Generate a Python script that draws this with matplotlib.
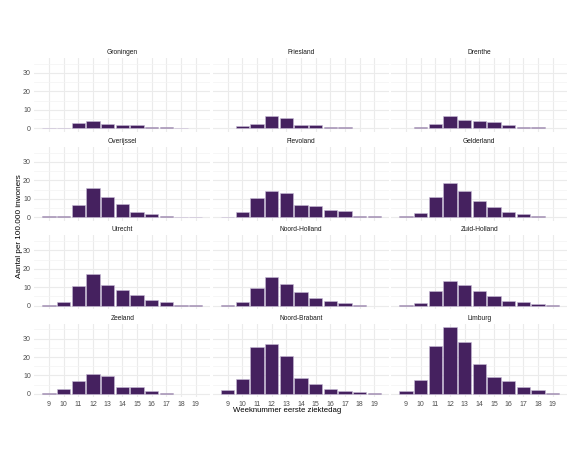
import matplotlib
matplotlib.use("Agg")
import matplotlib.pyplot as plt
import numpy as np

plt.rcParams['font.family'] = ['Liberation Sans', 'DejaVu Sans']

provinces = ["Groningen", "Friesland", "Drenthe",
             "Overijssel", "Flevoland", "Gelderland",
             "Utrecht", "Noord-Holland", "Zuid-Holland",
             "Zeeland", "Noord-Brabant", "Limburg"]

weeks = [9, 10, 11, 12, 13, 14, 15, 16, 17, 18, 19]

# values per week 9..19 (None = no bar)
groningen = [0.3, 0.3, 2.7, 4.0, 2.2, 1.8, 1.6, 0.7, 0.7, 0.2, None]
friesland = [None, 1.1, 2.5, 6.5, 5.3, 1.8, 1.6, 0.7, 0.7, None, None]
drenthe = [None, 0.7, 2.5, 6.7, 4.7, 4.0, 3.3, 1.6, 0.4, 0.4, None]
overijssel = [0.55, 0.9, 6.6, 15.8, 10.9, 7.0, 2.9, 1.8, 0.7, 0.3, 0.3]
flevoland = [0.2, 2.9, 10.5, 14.0, 13.1, 6.6, 6.1, 3.9, 3.1, 0.5, 0.7]
gelderland = [0.55, 2.4, 10.7, 18.6, 14.0, 8.8, 5.7, 2.8, 1.5, 0.55, None]
utrecht = [0.55, 1.85, 10.4, 17.4, 11.3, 8.7, 5.7, 3.0, 1.7, 0.55, 0.2]
noord_holland = [0.4, 1.85, 9.6, 15.6, 11.5, 7.2, 3.9, 2.4, 1.3, 0.4, None]
zuid_holland = [0.2, 1.5, 8.1, 13.5, 11.1, 8.0, 5.2, 2.6, 1.7, 0.75, 0.2]
zeeland = [0.55, 2.8, 7.2, 10.9, 9.9, 3.5, 3.5, 1.5, 0.55, None, None]
noord_brabant = [2.0, 8.3, 25.4, 27.3, 20.8, 8.8, 5.5, 2.8, 1.7, 0.75, 0.4]
limburg = [1.3, 7.6, 25.9, 36.3, 28.2, 16.0, 9.2, 7.0, 3.7, 2.0, 0.4]

series = [groningen, friesland, drenthe, overijssel, flevoland, gelderland,
          utrecht, noord_holland, zuid_holland, zeeland, noord_brabant, limburg]

W, H = 582, 450
fig = plt.figure(figsize=(W / 100, H / 100), dpi=100)

col_left = [34.3, 213.0, 391.3]
panel_w = 176.0
row_top = [58.0, 147.0, 235.4, 323.7]
panel_h = 73.5

fill = '#45215f'
ymax = max(v for s in series for v in s if v is not None)
ylim = (-0.05 * ymax, 1.05 * ymax)
xlim = (8.0, 20.0)

for i, (name, vals) in enumerate(zip(provinces, series)):
    r, c = divmod(i, 3)
    left = col_left[c] / W
    bottom = (H - row_top[r] - panel_h) / H
    ax = fig.add_axes([left, bottom, panel_w / W, panel_h / H])
    xs = [w for w, v in zip(weeks, vals) if v is not None]
    ys = [v for v in vals if v is not None]
    ax.bar(xs, ys, width=0.9, color=fill, edgecolor='#c8bcd6', linewidth=0.4, zorder=3)
    ax.set_xlim(*xlim)
    ax.set_ylim(*ylim)
    ax.set_xticks(weeks)
    ax.set_yticks([0, 10, 20, 30])
    ax.set_yticks([5, 15, 25, 35], minor=True)
    ax.grid(True, which='major', color='#ebebeb', linewidth=0.8, zorder=0)
    ax.grid(True, which='minor', axis='y', color='#f3f3f3', linewidth=0.5, zorder=0)
    for sp in ax.spines.values():
        sp.set_visible(False)
    ax.tick_params(which='both', length=0, labelsize=5.0, colors='#4d4d4d', pad=2.5)
    if r != 3:
        ax.set_xticklabels([])
    if c != 0:
        ax.set_yticklabels([])
    ax.text(0.5, 1.0 + 5.5 / panel_h, name, transform=ax.transAxes,
            ha='center', va='center', fontsize=4.8, color='#1a1a1a')

fig.text(287 / W, 1 - 410.5 / H, "Weeknummer eerste ziektedag", ha='center', va='center',
         fontsize=5.6, color='#000000')
fig.text(20 / W, 1 - 226 / H, "Aantal per 100.000 inwoners", ha='center', va='center',
         rotation=90, fontsize=5.9, color='#000000')

fig.savefig("out.png", dpi=100, facecolor='white')
